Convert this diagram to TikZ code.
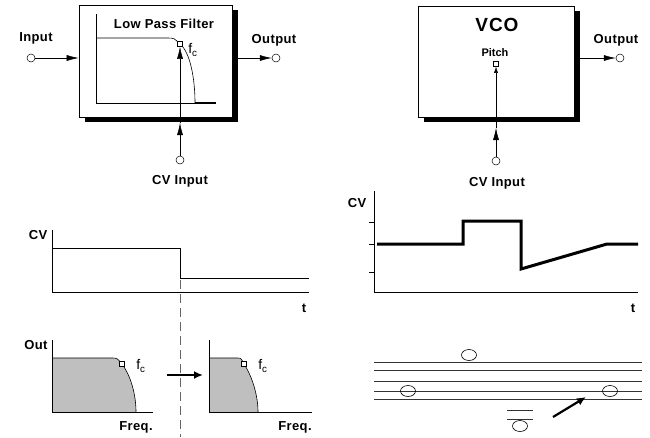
\documentclass[tikz,border=0pt]{standalone}
\usepackage{fontspec}
\setmainfont{Liberation Sans}
\usetikzlibrary{arrows.meta, shapes.geometric, shadows}

\newcommand{\fcut}{f\textsubscript{c}}

\tikzset{
	box/.style={draw, fill=white, line width=0.6pt, inner sep=0pt,
		drop shadow={shadow xshift=6pt, shadow yshift=-5pt, fill=black, opacity=1}},
	jack/.style={circle, draw, fill=white, inner sep=0pt, minimum size=8pt, line width=0.5pt},
	knob/.style={rectangle, draw, fill=white, inner sep=0pt, minimum size=5pt, line width=0.5pt},
	lbl/.style={font=\bfseries\fontsize{13}{15}\selectfont\addfontfeature{LetterSpace=3}, inner sep=0pt},
	small/.style={font=\fontsize{14}{16}\selectfont, inner sep=0pt},
	sig/.style={-{Latex[length=12pt,width=6pt]}, line width=0.5pt},
	plot/.style={line width=0.6pt},
	note/.style={ellipse, draw, minimum width=15pt, minimum height=11pt, inner sep=0pt, line width=0.6pt},
	staff/.style={line width=0.9pt, black!80},
	bigarrow/.style={-{Latex[length=9pt,width=8pt]}, line width=2.2pt},
}

\begin{document}
\begin{tikzpicture}[x=1pt, y=-1pt]
	\useasboundingbox (0,0) rectangle (650,437);

	% low pass filter
	\node[box, minimum width=153pt, minimum height=112pt](lpf) at (155.5,61){};
	\node[lbl](lpftitle) at (164,24){Low Pass Filter};
	\draw[plot] (96,14) -- (96,103) -- (216,103);
	\draw[plot] (96,38) -- (167,38) .. controls (174,38) .. (180,44)
		.. controls (190,52) and (195,78) .. (195,103);
	\draw[line width=1.3pt] (195,103) -- (216,103);
	\node[knob](fcA) at (180,44){};
	\node[small](fcAlbl) at (193,50){\fcut};

	\node[jack](inL) at (31,58){};
	\node[jack](outL) at (276,58){};
	\node[jack](cvL) at (180,160){};
	\coordinate(lpfcv) at (180,123);

	\draw[sig] (inL) -- (inL -| lpf.west);
	\draw[sig] (lpf.east |- outL) -- (outL);
	\draw[sig] (cvL) -- (lpfcv);
	\draw[sig] (lpfcv) -- (fcA);

	\node[lbl](inLlbl) at (36,38){Input};
	\node[lbl](outLlbl) at (274,40){Output};
	\node[lbl](cvLlbl) at (180,181){CV Input};

	% vco
	\node[box, minimum width=156pt, minimum height=111pt](vco) at (496,61.5){};
	\node[font=\bfseries\fontsize{19}{22}\selectfont\addfontfeature{LetterSpace=5}, inner sep=0pt](vcotitle) at (497,25){VCO};
	\node[font=\bfseries\fontsize{11}{13}\selectfont, inner sep=0pt](pitchlbl) at (495,53){Pitch};
	\node[knob](pitch) at (496,64){};

	\node[jack](outV) at (620,58){};
	\node[jack](cvV) at (496,161){};
	\coordinate(vcocv) at (496,128);

	\draw[sig] (vco.east |- outV) -- (outV);
	\draw[sig] (cvV) -- (vcocv);
	\draw[-{Latex[length=6pt,width=4pt]}, line width=0.5pt] (vcocv) -- (pitch);

	\node[lbl](outVlbl) at (616,40){Output};
	\node[lbl](cvVlbl) at (497,183){CV Input};

	% cv step
	\draw[plot] (52,230) -- (52,292) -- (309,292);
	\draw[plot] (52,248) -- (180,248) -- (180,278) -- (309,278);
	\node[lbl](cvA) at (38,235){CV};
	\node[lbl](tA) at (304,308){t};
	\draw[dashed, dash pattern=on 9pt off 5pt, black!60, line width=0.8pt] (180,280) -- (180,437);

	% cv for vco
	\draw[plot] (374,191) -- (374,292) -- (638,292);
	\foreach \ty in {222,244,272}
		\draw[plot] (369,\ty) -- (374,\ty);
	\draw[line width=3pt, line join=miter] (377,244) -- (463,244) -- (463,221) -- (521,221)
		-- (521,269) -- (607,244) -- (638,244);
	\node[lbl](cvB) at (357,203){CV};
	\node[lbl](tB) at (633,308){t};

	% response before
	\fill[black!25] (52,358) -- (112,358) .. controls (117,358) .. (122,364)
		.. controls (131,376) and (136,395) .. (136,412) -- (52,412) -- cycle;
	\draw[plot] (52,340) -- (52,412) -- (153,412);
	\draw[plot] (52,358) -- (112,358) .. controls (117,358) .. (122,364)
		.. controls (131,376) and (136,395) .. (136,412);
	\node[knob](fcB) at (122,364){};
	\node[small](fcBlbl) at (141,366){\fcut};
	\node[lbl](outlbl) at (36,345){Out};
	\node[lbl](freqB) at (136,427){Freq.};

	\coordinate(shiftA) at (167,375);
	\coordinate(shiftB) at (203,375);
	\draw[bigarrow] (shiftA) -- (shiftB);

	% response after
	\fill[black!25] (209,358) -- (237,358) .. controls (241,358) .. (244,364)
		.. controls (252,376) and (258,395) .. (258,412) -- (209,412) -- cycle;
	\draw[plot] (209,340) -- (209,412) -- (312,412);
	\draw[plot] (209,358) -- (237,358) .. controls (241,358) .. (244,364)
		.. controls (252,376) and (258,395) .. (258,412);
	\node[knob](fcC) at (244,364){};
	\node[small](fcClbl) at (263,366){\fcut};
	\node[lbl](freqC) at (295,427){Freq.};

	% staff
	\foreach \sy in {362,370,381,391,399}
		\draw[staff] (374,\sy) -- (642,\sy);
	\draw[staff] (507,410) -- (533,410);
	\draw[staff] (507,419) -- (533,419);
	\node[note](noteA) at (469,355){};
	\node[note](noteB) at (408,391){};
	\node[note](noteC) at (610,391){};
	\node[note](noteD) at (520,426){};
	\coordinate(riseA) at (553,417);
	\coordinate(riseB) at (586,397);
	\draw[bigarrow] (riseA) -- (riseB);
\end{tikzpicture}
\end{document}
